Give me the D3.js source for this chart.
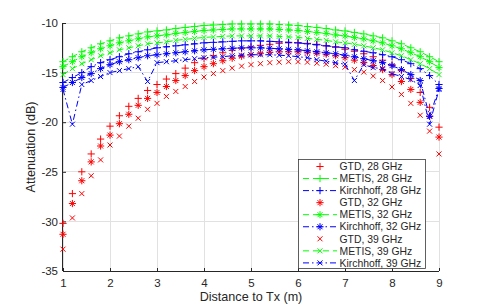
<!DOCTYPE html>
<html><head><meta charset="utf-8">
<script src="https://cdn.jsdelivr.net/npm/d3@7"></script>
<style>
body{margin:0;background:#fff}
svg{display:block}
text{font-family:"Liberation Sans",Arial,Helvetica,sans-serif;fill:#262626}
</style></head>
<body><svg id="chart" width="485" height="305"></svg>
<script>
// ---------- data ----------
const distance = [1,1.2,1.4,1.6,1.8,2,2.2,2.4,2.6,2.8,3,3.2,3.4,3.6,3.8,4,4.2,4.4,4.6,4.8,5,5.2,5.4,5.6,5.8,6,6.2,6.4,6.6,6.8,7,7.2,7.4,7.6,7.8,8,8.2,8.4,8.6,8.8,9];

const gtd28 = [-30.2,-27.2,-25.0,-23.2,-21.7,-20.4,-19.35,-18.4,-17.6,-16.8,-16.2,-15.65,-15.1,-14.55,-14.0,-13.6,-13.3,-13.0,-12.75,-12.55,-12.4,-12.25,-12.15,-12.05,-12.0,-12.0,-12.05,-12.15,-12.3,-12.45,-12.65,-12.85,-13.1,-13.4,-13.75,-14.2,-14.8,-15.6,-17.0,-18.5,-20.5];
const metis28 = [-13.9,-13.4,-12.9,-12.5,-12.1,-11.8,-11.5,-11.3,-11.1,-10.9,-10.8,-10.7,-10.55,-10.45,-10.35,-10.25,-10.2,-10.15,-10.1,-10.1,-10.1,-10.1,-10.1,-10.15,-10.2,-10.25,-10.35,-10.45,-10.55,-10.7,-10.8,-10.95,-11.1,-11.3,-11.5,-11.8,-12.1,-12.5,-12.9,-13.4,-13.9];
const kirch28 = [-16.0,-15.5,-15.0,-14.4,-14.0,-13.7,-13.4,-13.1,-12.9,-12.7,-12.5,-12.4,-12.3,-12.2,-12.1,-12.0,-11.95,-11.9,-11.85,-11.8,-11.8,-11.8,-11.85,-11.9,-11.95,-12.0,-12.1,-12.2,-12.3,-12.4,-12.5,-12.7,-12.85,-13.0,-13.2,-13.4,-13.7,-14.1,-14.6,-15.3,-16.2];

const gtd32 = [-31.3,-28.2,-25.9,-24.0,-22.4,-21.3,-20.15,-19.2,-18.3,-17.6,-17.0,-16.4,-15.8,-15.3,-14.8,-14.4,-14.1,-13.8,-13.55,-13.35,-13.2,-13.05,-12.95,-12.9,-12.9,-12.9,-12.95,-13.05,-13.15,-13.3,-13.5,-13.75,-14.0,-14.3,-14.7,-15.2,-15.9,-16.7,-18.0,-19.4,-21.5];
const metis32 = [-14.4,-13.9,-13.4,-13.0,-12.6,-12.3,-12.0,-11.8,-11.6,-11.4,-11.3,-11.2,-11.05,-10.95,-10.85,-10.75,-10.7,-10.65,-10.6,-10.6,-10.6,-10.6,-10.6,-10.65,-10.7,-10.75,-10.85,-10.95,-11.05,-11.2,-11.3,-11.45,-11.6,-11.8,-12.0,-12.3,-12.6,-13.0,-13.4,-13.9,-14.5];
const kirch32 = [-16.5,-16.0,-15.5,-15.1,-14.6,-14.2,-13.9,-13.7,-13.5,-13.3,-13.2,-13.1,-13.0,-12.9,-12.8,-12.7,-12.65,-12.6,-12.55,-12.5,-12.5,-12.5,-12.55,-12.6,-12.65,-12.7,-12.8,-12.9,-13.0,-13.1,-13.25,-13.4,-13.6,-13.8,-14.0,-14.3,-14.7,-15.2,-15.8,-19.4,-16.6];

const gtd39 = [-32.8,-29.65,-27.2,-25.4,-23.8,-22.3,-21.4,-20.4,-19.6,-18.7,-18.1,-17.4,-16.9,-16.4,-15.9,-15.45,-15.1,-14.8,-14.55,-14.35,-14.2,-14.1,-14.0,-13.95,-13.9,-13.9,-13.95,-14.05,-14.15,-14.3,-14.45,-14.7,-14.95,-15.35,-15.8,-16.45,-17.2,-18.1,-19.3,-20.9,-23.2];
const metis39 = [-15.2,-14.6,-14.1,-13.7,-13.3,-13.0,-12.7,-12.5,-12.3,-12.1,-12.0,-11.9,-11.75,-11.65,-11.55,-11.45,-11.4,-11.35,-11.3,-11.3,-11.3,-11.3,-11.3,-11.35,-11.4,-11.45,-11.55,-11.65,-11.75,-11.9,-12.0,-12.15,-12.3,-12.5,-12.7,-13.0,-13.3,-13.7,-14.1,-14.6,-15.2];
const kirch39 = [-16.7,-20.2,-16.2,-15.8,-15.4,-15.0,-14.8,-14.6,-14.4,-15.9,-14.0,-13.9,-13.8,-13.7,-13.6,-13.5,-13.45,-13.4,-13.3,-13.25,-13.2,-13.2,-13.2,-13.25,-13.3,-13.4,-13.5,-13.7,-13.85,-14.0,-14.15,-15.8,-14.2,-14.5,-14.6,-15.1,-15.4,-15.7,-16.3,-20.2,-16.7];

const legendLabels = ["GTD, 28 GHz","METIS, 28 GHz","Kirchhoff, 28 GHz","GTD, 32 GHz","METIS, 32 GHz","Kirchhoff, 32 GHz","GTD, 39 GHz","METIS, 39 GHz","Kirchhoff, 39 GHz"];
const xTicks = [1,2,3,4,5,6,7,8,9];
const yTicks = [-35,-30,-25,-20,-15,-10];
const xLabel = "Distance to Tx (m)";
const yLabel = "Attenuation (dB)";

// ---------- styles ----------
const RED="#ff0000", GREEN="#00ff00", BLUE="#0000ff";
const DASH="6,4", DASHDOT="6,3,1.5,3";
const series = [
  {vals:gtd28,  color:RED,   dash:null,    marker:"plus"},
  {vals:metis28,color:GREEN, dash:DASH,    marker:"plus"},
  {vals:kirch28,color:BLUE,  dash:DASHDOT, marker:"plus"},
  {vals:gtd32,  color:RED,   dash:null,    marker:"star"},
  {vals:metis32,color:GREEN, dash:DASH,    marker:"star"},
  {vals:kirch32,color:BLUE,  dash:DASHDOT, marker:"star"},
  {vals:gtd39,  color:RED,   dash:null,    marker:"cross"},
  {vals:metis39,color:GREEN, dash:DASH,    marker:"cross"},
  {vals:kirch39,color:BLUE,  dash:DASHDOT, marker:"cross"}
].map((s,i)=>Object.assign(s,{name:legendLabels[i]}));

function markerPath(type){
  const p=3.6, c=2.5;
  if(type==="plus") return `M${-p},0H${p}M0,${-p}V${p}`;
  if(type==="cross") return `M${-c},${-c}L${c},${c}M${-c},${c}L${c},${-c}`;
  return `M${-p},0H${p}M0,${-p}V${p}M${-c},${-c}L${c},${c}M${-c},${c}L${c},${-c}`;
}

// ---------- chart ----------
const svg = d3.select("#chart");
const L=63, R=439, T=23, B=271;
const x = d3.scaleLinear().domain([1,9]).range([L,R]);
const y = d3.scaleLinear().domain([-35,-10]).range([B,T]);

// grid
const grid = svg.append("g").attr("stroke","#e1e1e1").attr("stroke-width",1);
xTicks.forEach(t=>grid.append("line").attr("x1",x(t)).attr("x2",x(t)).attr("y1",T).attr("y2",B).attr("shape-rendering","crispEdges"));
yTicks.forEach(t=>grid.append("line").attr("x1",L).attr("x2",R).attr("y1",y(t)).attr("y2",y(t)).attr("shape-rendering","crispEdges"));

// axes
const xAxis = svg.append("g").attr("transform",`translate(0,${B})`)
  .call(d3.axisBottom(x).tickValues(xTicks).tickSize(-3).tickPadding(8).tickFormat(d3.format("d")));
const yAxis = svg.append("g").attr("transform",`translate(${L},0)`)
  .call(d3.axisLeft(y).tickValues(yTicks).tickSize(-3).tickPadding(5).tickFormat(d=>String(d)));
[xAxis,yAxis].forEach(a=>{
  a.select(".domain").attr("stroke","#262626").attr("shape-rendering","crispEdges");
  a.selectAll(".tick line").attr("stroke","#262626");
  a.selectAll("text").attr("font-size",11.5).attr("fill","#262626")
   .attr("font-family",'"Liberation Sans",Arial,sans-serif');
});
xAxis.selectAll(".domain").attr("d",`M${L},0.5H${R}`);
yAxis.selectAll(".domain").attr("d",`M-0.5,${B}V${T}`);

svg.append("text").attr("x",(L+R)/2).attr("y",301).attr("text-anchor","middle")
  .attr("font-size",12.6).text(xLabel);
svg.append("text").attr("transform",`translate(35,${(T+B)/2}) rotate(-90)`).attr("text-anchor","middle")
  .attr("font-size",12.6).text(yLabel);

// series
const plot = svg.append("g");
series.forEach(s=>{
  const pts = distance.map((d,i)=>[d,s.vals[i]]);
  if(s.dash){
    plot.append("path").datum(pts)
      .attr("d",d3.line().x(d=>x(d[0])).y(d=>y(d[1])))
      .attr("fill","none").attr("stroke",s.color).attr("stroke-width",1)
      .attr("stroke-dasharray",s.dash);
  }
  plot.append("g").selectAll("path").data(pts).join("path")
    .attr("transform",d=>`translate(${x(d[0])},${y(d[1])})`)
    .attr("d",markerPath(s.marker))
    .attr("fill","none").attr("stroke",s.color).attr("stroke-width",1);
});

// legend
const lg = svg.append("g");
const LX=298.5, LY=159.5, LW=127, LH=109;
lg.append("rect").attr("x",LX).attr("y",LY).attr("width",LW).attr("height",LH)
  .attr("fill","#fff").attr("stroke","#3a3a3a").attr("stroke-width",0.8);
series.forEach((s,i)=>{
  const cy = 166.5 + i*12.05;
  if(s.dash){
    lg.append("line").attr("x1",303).attr("x2",337).attr("y1",cy).attr("y2",cy)
      .attr("stroke",s.color).attr("stroke-width",1).attr("stroke-dasharray",s.dash);
  }
  lg.append("path").attr("transform",`translate(320,${cy})`).attr("d",markerPath(s.marker))
    .attr("fill","none").attr("stroke",s.color).attr("stroke-width",1);
  lg.append("text").attr("x",339.5).attr("y",cy).attr("dy","0.36em")
    .attr("font-size",10.4).text(s.name);
});
</script>
</body></html>
